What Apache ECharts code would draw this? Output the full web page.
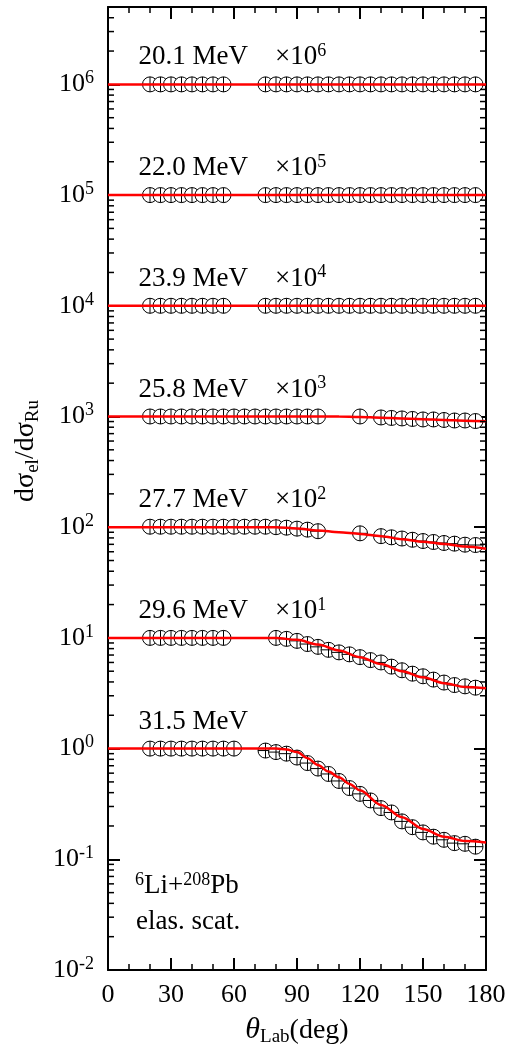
<!DOCTYPE html>
<html><head><meta charset="utf-8">
<script src="https://cdn.jsdelivr.net/npm/echarts@6/dist/echarts.min.js"></script>
<style>html,body{margin:0;padding:0;background:#fff}#c{width:510px;height:1056px}</style>
</head><body><div id="c"></div>
<script>
// ---------- data ----------
const energies = ['20.1', '22.0', '23.9', '25.8', '27.7', '29.6', '31.5'];
const scaleExp = [6, 5, 4, 3, 2, 1, 0];

const ang_20_1 = [20,25,30,35,40,45,50,55,75,80,85,90,95,100,105,110,115,120,125,130,135,140,145,150,155,160,165,170,175];
const val_20_1 = [1,1,1,1,1,1,1,1,1,1,1,1,1,1,1,1,1,1,1,1,1,1,1,1,1,1,1,1,1];
const ang_22_0 = [20,25,30,35,40,45,50,55,75,80,85,90,95,100,105,110,115,120,125,130,135,140,145,150,155,160,165,170,175];
const val_22_0 = [1,1,1,1,1,1,1,1,1,1,1,1,1,1,1,1,1,1,1,1,1,1,1,1,1,1,1,1,1];
const ang_23_9 = [20,25,30,35,40,45,50,55,75,80,85,90,95,100,105,110,115,120,125,130,135,140,145,150,155,160,165,170,175];
const val_23_9 = [1,1,1,1,1,1,1,1,1,1,1,1,1,1,1,1,1,1,1,1,1,1,1,1,1,1,1,1,1];
const ang_25_8 = [20,25,30,35,40,45,50,55,60,65,70,75,80,85,90,95,100,120,130,135,140,145,150,155,160,165,170,175];
const val_25_8 = [1,1,1,1,1,1,1,1,1,1,1,1,1,1,1,1,1,1,0.98,0.97,0.96,0.95,0.94,0.94,0.93,0.92,0.92,0.91];
const ang_27_7 = [20,25,30,35,40,45,50,55,60,65,70,75,80,85,90,95,100,120,130,135,140,145,150,155,160,165,170,175];
const val_27_7 = [1.01,1.01,1.01,1.01,1.01,1.01,1.01,1.01,1.01,1.01,1.01,1.01,1.0,0.99,0.97,0.95,0.92,0.88,0.83,0.81,0.79,0.77,0.75,0.735,0.72,0.71,0.695,0.69];
const ang_29_6 = [20,25,30,35,40,45,50,55,80,85,90,95,100,105,110,115,120,125,130,135,140,145,150,155,160,165,170,175];
const val_29_6 = [1,1,1,1,1,1,1,1,1.0,0.98,0.94,0.88,0.83,0.78,0.74,0.71,0.67,0.63,0.60,0.55,0.51,0.475,0.45,0.42,0.395,0.375,0.365,0.355];
const ang_31_5 = [20,25,30,35,40,45,50,55,60,75,80,85,90,95,100,105,110,115,120,125,130,135,140,145,150,155,160,165,170,175];
const val_31_5 = [1,1,1,1,1,1,1,1,1,0.96,0.93,0.90,0.83,0.74,0.66,0.59,0.51,0.44,0.39,0.34,0.29,0.265,0.22,0.195,0.175,0.16,0.15,0.14,0.138,0.13];

// theory curves
const lang_20_1 = [0,180];  const lval_20_1 = [1,1];
const lang_22_0 = [0,180];  const lval_22_0 = [1,1];
const lang_23_9 = [0,180];  const lval_23_9 = [1,1];
const lang_25_8 = [0,100,110,120,130,140,150,160,170,180];
const lval_25_8 = [1,1,0.998,0.99,0.975,0.96,0.945,0.93,0.915,0.905];
const lang_27_7 = [0,80,90,100,110,120,130,140,150,160,170,180];
const lval_27_7 = [1,1,0.975,0.935,0.9,0.87,0.83,0.78,0.74,0.705,0.67,0.64];
const lang_29_6 = [0,80,90,100,110,120,130,140,150,160,170,180];
const lval_29_6 = [1,1,0.96,0.87,0.77,0.67,0.58,0.50,0.44,0.39,0.36,0.35];
const lang_31_5 = [0,80,85,90,95,100,105,110,115,120,130,140,150,160,170,180];
const lval_31_5 = [1,1,0.98,0.93,0.82,0.71,0.62,0.55,0.48,0.42,0.31,0.24,0.188,0.16,0.146,0.142];

const xTickLabels = ['0','30','60','90','120','150','180'];
const yTickExps = [-2,-1,0,1,2,3,4,5,6];

const expAngles = [ang_20_1, ang_22_0, ang_23_9, ang_25_8, ang_27_7, ang_29_6, ang_31_5];
const expValues = [val_20_1, val_22_0, val_23_9, val_25_8, val_27_7, val_29_6, val_31_5];
const thAngles = [lang_20_1, lang_22_0, lang_23_9, lang_25_8, lang_27_7, lang_29_6, lang_31_5];
const thValues = [lval_20_1, lval_22_0, lval_23_9, lval_25_8, lval_27_7, lval_29_6, lval_31_5];

// ---------- chart ----------
const FONT = 'Liberation Serif';
const TXT = '#000';
const Y_MIN = 0.01, Y_MAX = 5e6;

const minorVals = [];
for (let k = -2; k <= 6; k++) for (let m = 2; m <= 9; m++) { const v = m * Math.pow(10, k); if (v < Y_MAX * 0.999) minorVals.push([0, v]); }

const symbolPath = 'path://M1,11A10,10 0 1 1 21,11A10,10 0 1 1 1,11Z M11,1L11,21M1,11L21,11';

const series = [];
energies.forEach((e, i) => {
  const f = Math.pow(10, scaleExp[i]);
  series.push({
    type: 'scatter', name: e + ' exp', xAxisIndex: 0, yAxisIndex: 0,
    symbol: symbolPath, symbolSize: 15, z: 3,
    itemStyle: { color: '#fff', borderColor: '#000', borderWidth: 1, opacity: 1 },
    data: expAngles[i].map((a, j) => [a, expValues[i][j] * f]),
    silent: true
  });
});
energies.forEach((e, i) => {
  const f = Math.pow(10, scaleExp[i]);
  series.push({
    type: 'line', name: e + ' th', xAxisIndex: 0, yAxisIndex: 0, z: 5,
    showSymbol: false, symbol: 'none', smooth: 0.3, smoothMonotone: 'x',
    lineStyle: { color: '#ff0000', width: 2.5 },
    data: thAngles[i].map((a, j) => [a, thValues[i][j] * f]),
    silent: true
  });
});
// energy labels
series.push({
  type: 'scatter', xAxisIndex: 0, yAxisIndex: 0, symbolSize: 1, z: 6,
  itemStyle: { color: '#fff', opacity: 1 }, silent: true,
  data: energies.map((e, i) => [14.3, Math.pow(10, scaleExp[i]) * Math.pow(10, 27 / 110.6)]),
  label: {
    show: true, position: 'right', distance: 0, color: '#000', opacity: 1,
    textBorderWidth: 0,
    formatter: p => {
      const i = p.dataIndex;
      return i < 6 ? `{t|${energies[i]} MeV}{x|×10}{s|${scaleExp[i]}}` : `{t|${energies[i]} MeV}`;
    },
    rich: {
      t: { fontFamily: FONT, fontSize: 27, color: TXT },
      x: { fontFamily: FONT, fontSize: 27, color: TXT, padding: [0, 0, 0, 27] },
      s: { fontFamily: FONT, fontSize: 18, color: TXT, padding: [0, 0, 12, 0] }
    }
  }
});
// minor log ticks on left & right
series.push({
  type: 'custom', xAxisIndex: 0, yAxisIndex: 0, z: 7, silent: true,
  data: minorVals, clip: false,
  renderItem: (params, api) => {
    const v = api.value(1);
    const pL = api.coord([0, v]);
    const pR = api.coord([180, v]);
    return { type: 'group', children: [
      { type: 'line', shape: { x1: pL[0], y1: pL[1], x2: pL[0] + 6, y2: pL[1] }, style: { stroke: '#000', lineWidth: 1.5 } },
      { type: 'line', shape: { x1: pR[0] - 6, y1: pR[1], x2: pR[0], y2: pR[1] }, style: { stroke: '#000', lineWidth: 1.5 } }
    ] };
  }
});

const axisLineStyle = { color: '#000', width: 2 };
const yLabelFmt = v => {
  const l = Math.log10(v);
  const e = Math.round(l);
  if (Math.abs(l - e) > 1e-6 || yTickExps.indexOf(e) < 0) return '';
  return `{b|10}{s|${e}}`;
};

const option = {
  animation: false,
  backgroundColor: '#fff',
  grid: { left: 108, right: 24, top: 7, bottom: 86, containLabel: false },
  xAxis: [
    {
      type: 'value', position: 'bottom', min: 0, max: 180, interval: 30,
      axisLine: { show: true, onZero: false, lineStyle: axisLineStyle },
      axisTick: { show: true, inside: true, length: 12, lineStyle: { color: '#000', width: 2 } },
      minorTick: { show: true, splitNumber: 3, length: 6, lineStyle: { color: '#000', width: 1.5 } },
      splitLine: { show: false }, minorSplitLine: { show: false },
      axisLabel: {
        margin: 12, fontFamily: FONT, fontSize: 26, color: TXT,
        formatter: v => xTickLabels[Math.round(v / 30)] || ''
      },
      name: '{i|θ}{sub|Lab}{t|(deg)}', nameLocation: 'middle', nameGap: 44,
      nameTextStyle: {
        rich: {
          i: { fontFamily: FONT, fontSize: 30, fontStyle: 'italic', color: TXT },
          sub: { fontFamily: FONT, fontSize: 19, color: TXT, padding: [14, 0, 0, 0] },
          t: { fontFamily: FONT, fontSize: 28, color: TXT }
        }
      }
    },
    {
      type: 'value', position: 'top', min: 0, max: 180, interval: 30,
      axisLine: { show: true, onZero: false, lineStyle: axisLineStyle },
      axisTick: { show: true, inside: true, length: 12, lineStyle: { color: '#000', width: 2 } },
      minorTick: { show: true, splitNumber: 3, length: 6, lineStyle: { color: '#000', width: 1.5 } },
      splitLine: { show: false }, axisLabel: { show: false }
    }
  ],
  yAxis: [
    {
      type: 'log', logBase: 10, position: 'left', min: Y_MIN, max: Y_MAX,
      axisLine: { show: true, onZero: false, lineStyle: axisLineStyle },
      axisTick: { show: true, inside: true, length: 12, lineStyle: { color: '#000', width: 2 } },
      splitLine: { show: false },
      axisLabel: {
        margin: 14, formatter: yLabelFmt,
        rich: {
          b: { fontFamily: FONT, fontSize: 26, color: TXT },
          s: { fontFamily: FONT, fontSize: 18, color: TXT, padding: [0, 0, 12, 0] }
        }
      }
    },
    {
      type: 'log', logBase: 10, position: 'right', min: Y_MIN, max: Y_MAX,
      axisLine: { show: true, onZero: false, lineStyle: axisLineStyle },
      axisTick: { show: true, inside: true, length: 12, lineStyle: { color: '#000', width: 2 } },
      splitLine: { show: false }, axisLabel: { show: false }
    }
  ],
  graphic: [
    {
      type: 'text', x: 26, y: 451, rotation: Math.PI / 2,
      style: {
        text: '{t|dσ}{sub|el}{t|/dσ}{sub|Ru}', align: 'center', verticalAlign: 'middle',
        rich: {
          t: { fontFamily: FONT, fontSize: 28, fill: TXT, color: TXT },
          sub: { fontFamily: FONT, fontSize: 19, fill: TXT, color: TXT, padding: [14, 0, 0, 0] }
        }
      }
    },
    {
      type: 'text', x: 135, y: 886,
      style: {
        text: '{s|6}{t|Li+}{s|208}{t|Pb}', align: 'left', verticalAlign: 'middle',
        rich: {
          t: { fontFamily: FONT, fontSize: 27, fill: TXT, color: TXT },
          s: { fontFamily: FONT, fontSize: 18, fill: TXT, color: TXT, padding: [0, 0, 12, 0] }
        }
      }
    },
    {
      type: 'text', x: 136, y: 922,
      style: { text: 'elas. scat.', align: 'left', verticalAlign: 'middle', font: '27px "Liberation Serif"', fill: TXT }
    }
  ],
  series: series
};

const chart = echarts.init(document.getElementById('c'), null, { renderer: 'canvas' });
chart.setOption(option);
</script>
</body></html>
